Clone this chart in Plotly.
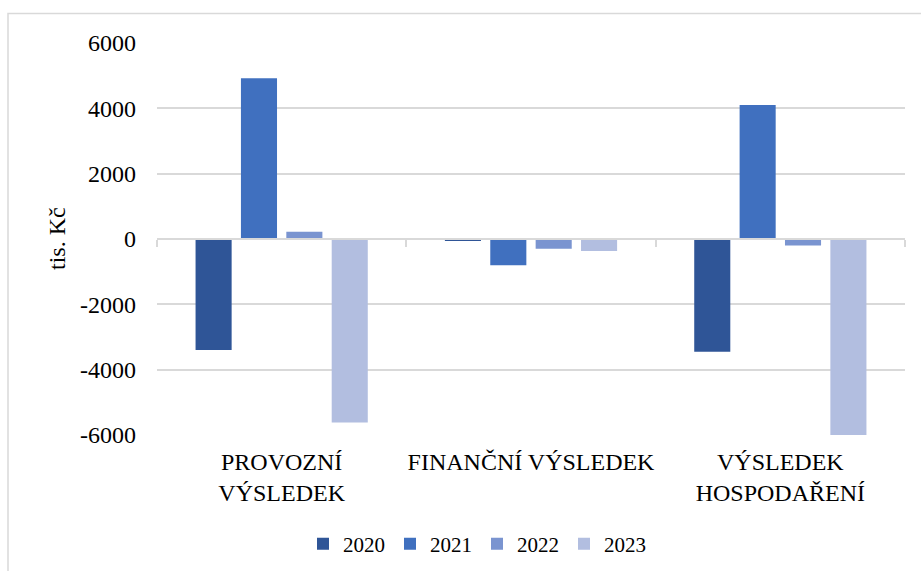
import plotly.graph_objects as go

categories = ["PROVOZNÍ<br>VÝSLEDEK", "FINANČNÍ VÝSLEDEK", "VÝSLEDEK<br>HOSPODAŘENÍ"]
years = ["2020", "2021", "2022", "2023"]
v2020 = [-3400, -60, -3450]
v2021 = [4920, -800, 4100]
v2022 = [220, -300, -200]
v2023 = [-5620, -370, -6000]
colors = ["#2F5597", "#4070BF", "#7A94D0", "#B2BEE0"]
yticks = [-6000, -4000, -2000, 0, 2000, 4000, 6000]
yticktext = ["-6000", "-4000", "-2000", "0", "2000", "4000", "6000"]

W, H = 921, 571
ml, mr, mt, mb = 157, 16, 43, 136
pw = W - ml - mr
ph = H - mt - mb

fig = go.Figure()
for name, vals, col in zip(years, [v2020, v2021, v2022, v2023], colors):
    fig.add_trace(go.Bar(x=categories, y=vals, name=name, marker=dict(color=col, line=dict(width=0))))

# invisible trace to carry the zero-line axis with boundary ticks
fig.add_trace(go.Scatter(x=[0, 3], y=[0, 0], xaxis="x2", mode="none",
                         showlegend=False, hoverinfo="skip"))

font = dict(family="Liberation Serif", size=24, color="#000000")
lfont = dict(family="Liberation Serif", size=21, color="#000000")

fig.update_layout(
    width=W, height=H,
    margin=dict(l=ml, r=mr, t=mt, b=mb, autoexpand=False),
    paper_bgcolor="white", plot_bgcolor="white",
    font=font,
    barmode="group", bargap=0.272, bargroupgap=0.205,
    xaxis=dict(type="category", showgrid=False, showline=False, ticks="",
               tickfont=font, ticklabelstandoff=10, zeroline=False, automargin=False),
    xaxis2=dict(overlaying="x", anchor="free", position=0.5, range=[0, 3],
                tickvals=[0, 1, 2, 3], ticks="outside", ticklen=7, tickcolor="#D9D9D9",
                tickwidth=1.5, showline=True, linecolor="#D9D9D9", linewidth=1.5,
                showticklabels=False, showgrid=False, zeroline=False, side="bottom",
                automargin=False),
    yaxis=dict(range=[-6000, 6000], tickvals=yticks, ticktext=yticktext, showgrid=True,
               gridcolor="#D9D9D9", gridwidth=1.5, zeroline=False, showline=False, ticks="",
               tickfont=font, ticklabelstandoff=20, automargin=False),
    legend=dict(orientation="h", x=(477 - ml) / pw, xanchor="center", y=-0.278, yanchor="middle",
                font=lfont, itemwidth=30, traceorder="normal"),
    showlegend=True,
    annotations=[dict(text="tis. Kč", textangle=-90, xref="paper", yref="paper",
                      x=(57 - ml) / pw, y=0.5, xanchor="center", yanchor="middle",
                      showarrow=False, font=font)],
    shapes=[dict(type="rect", xref="paper", yref="paper",
                 x0=(8 - ml) / pw, x1=(W + 5 - ml) / pw,
                 y0=-(mb + 10) / ph,
                 y1=1 + (mt - 13.5) / ph,
                 line=dict(color="#D9D9D9", width=1.5), fillcolor="rgba(0,0,0,0)", layer="below")],
)

fig.write_html("out.html", config={"displayModeBar": False},
               post_script="document.body.style.margin='0';document.body.style.overflow='hidden';")
